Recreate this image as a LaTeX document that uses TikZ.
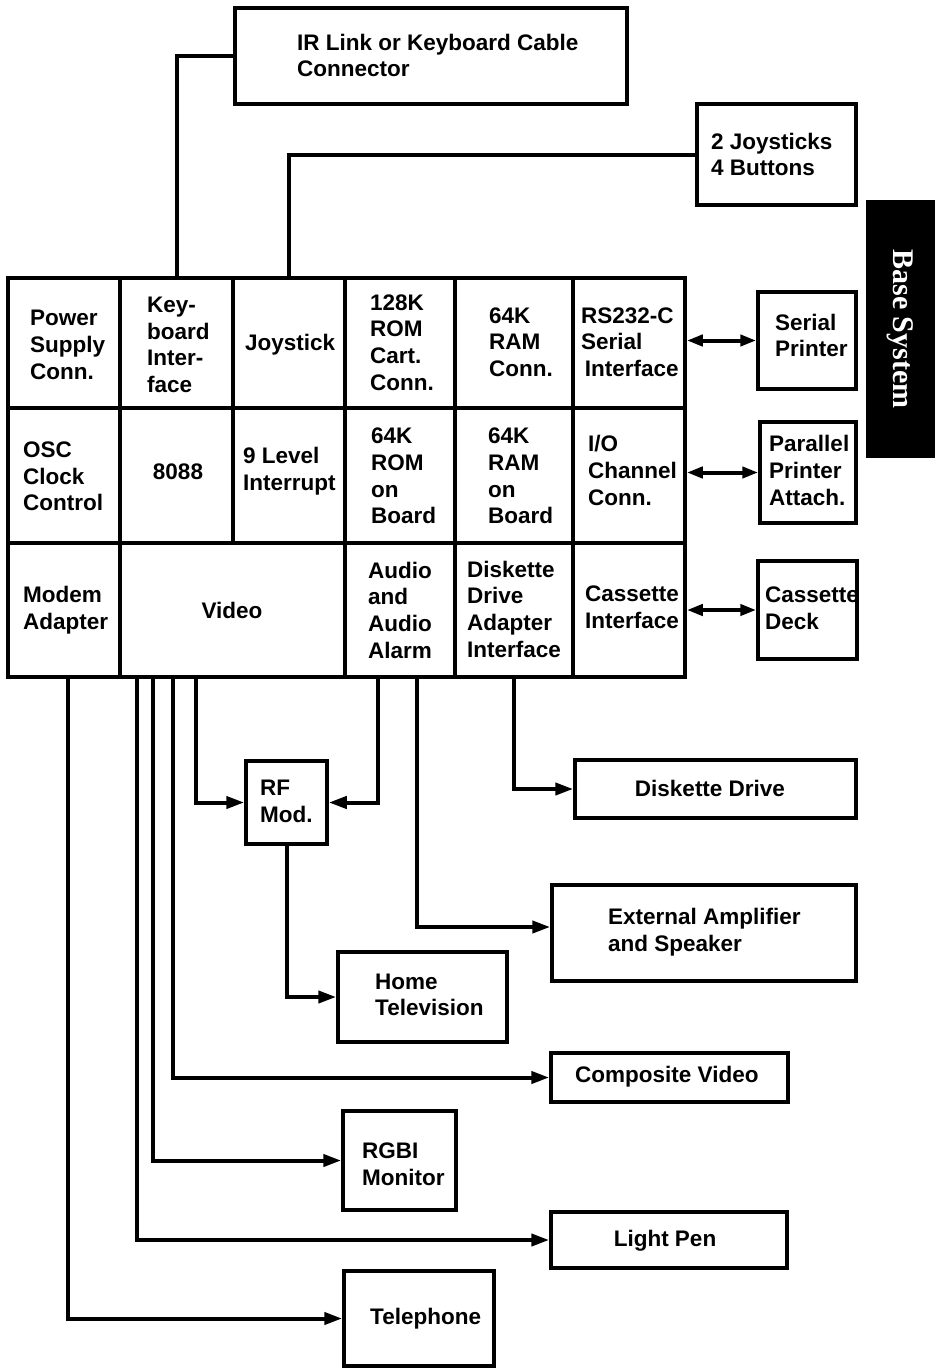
\documentclass[tikz,border=0pt]{standalone}
\usepackage{fontspec}
\setmainfont{Liberation Sans}
\newfontfamily\basefont{Liberation Serif}
\usetikzlibrary{arrows.meta}
\tikzset{
  box/.style={draw, line width=3.5pt, inner sep=0pt, rectangle},
  conn/.style={line width=4pt},
  arr/.style={conn, -{Triangle[length=18pt,width=12pt]}},
  darr/.style={conn, {Triangle[length=16pt,width=11pt]}-{Triangle[length=16pt,width=11pt]}},
  txt/.style={inner sep=0pt, align=left, anchor=west, font=\fontsize{22.5}{26.7}\selectfont\bfseries},
  ctxt/.style={inner sep=0pt, align=center, font=\fontsize{22.5}{26.7}\selectfont\bfseries}
}
\newcommand\mybox[5]{\node[box, minimum width={(#4-#2)*1pt}, minimum height={(#5-#3)*1pt}] (#1) at ({(#2+#4)/2},{(#3+#5)/2}) {};}
\begin{document}
\begin{tikzpicture}[x=1pt,y=-1pt]
\useasboundingbox (0,0) rectangle (943,1368);
% main grid
\mybox{psu}{8}{278}{120}{408}
\mybox{kbd}{120}{278}{233}{408}
\mybox{joy}{233}{278}{345}{408}
\mybox{romc}{345}{278}{455}{408}
\mybox{ramc}{455}{278}{573}{408}
\mybox{rs}{573}{278}{685}{408}
\mybox{osc}{8}{408}{120}{543}
\mybox{cpu}{120}{408}{233}{543}
\mybox{irq}{233}{408}{345}{543}
\mybox{romb}{345}{408}{455}{543}
\mybox{ramb}{455}{408}{573}{543}
\mybox{io}{573}{408}{685}{543}
\mybox{modem}{8}{543}{120}{677}
\mybox{video}{120}{543}{345}{677}
\mybox{audio}{345}{543}{455}{677}
\mybox{dda}{455}{543}{573}{677}
\mybox{cas}{573}{543}{685}{677}
% external boxes
\mybox{ir}{235}{8}{627}{104}
\mybox{js}{697}{104}{856}{205}
\mybox{sp}{758}{292}{856}{389}
\mybox{pp}{760}{422}{856}{523}
\mybox{cd}{758}{561}{857}{659}
\mybox{rf}{246}{761}{327}{844}
\mybox{dd}{575}{760}{856}{818}
\mybox{amp}{552}{885}{856}{981}
\mybox{tv}{338}{952}{507}{1042}
\mybox{cv}{551}{1053}{788}{1102}
\mybox{rgbi}{343}{1111}{456}{1210}
\mybox{lp}{551}{1212}{787}{1268}
\mybox{tel}{344}{1271}{494}{1366}
% base system tab
\node[fill=black, minimum width=69pt, minimum height=258pt, inner sep=0pt] (bs) at (900.5,329) {};
\node[rotate=-90, text=white, inner sep=0pt, font=\basefont\bfseries\fontsize{30}{30}\selectfont] (bst) at (bs.center) {Base System};
% texts
\node[txt] (t-ir) at (297,55.5) {IR Link or Keyboard Cable\\Connector};
\node[txt] (t-js) at (711,154.5) {2 Joysticks\\4 Buttons};
\node[txt] (t-psu) at (30,345) {Power\\Supply\\Conn.};
\node[txt] (t-kbd) at (147,345) {Key-\\board\\Inter-\\face};
\node[txt] (t-joy) at (245,345) {Joystick};
\node[txt] (t-romc) at (370,342.5) {128K\\ROM\\Cart.\\Conn.};
\node[txt] (t-ramc) at (489,342) {64K\\RAM\\Conn.};
\node[txt] (t-rs) at (581,342) {RS232-C\\Serial\\\,Interface};
\node[txt] (t-sp) at (775,335.5) {Serial\\Printer};
\node[txt] (t-osc) at (23,476.5) {OSC\\Clock\\Control};
\node[ctxt] (t-cpu) at (178,472) {8088};
\node[txt] (t-irq) at (243,471.5) {9 Level\\Interrupt};
\node[txt] (t-romb) at (371,476) {64K\\ROM\\on\\Board};
\node[txt] (t-ramb) at (488,476) {64K\\RAM\\on\\Board};
\node[txt] (t-io) at (588,470.5) {I/O\\Channel\\Conn.};
\node[txt] (t-pp) at (769,470.5) {Parallel\\Printer\\Attach.};
\node[txt] (t-modem) at (23,610) {Modem\\Adapter};
\node[ctxt] (t-video) at (232,610) {Video};
\node[txt] (t-audio) at (368,610) {Audio\\and\\Audio\\Alarm};
\node[txt] (t-dda) at (467,609) {Diskette\\Drive\\Adapter\\Interface};
\node[txt] (t-cas) at (585,607.5) {Cassette\\Interface};
\node[txt] (t-cd) at (765,608.5) {Cassette\\Deck};
\node[txt] (t-rf) at (260,801.5) {RF\\Mod.};
\node[ctxt] (t-dd) at (710,788) {Diskette Drive};
\node[txt] (t-amp) at (608,932.5) {External Amplifier\\and Speaker};
\node[txt] (t-tv) at (375,995) {Home\\Television};
\node[txt] (t-cv) at (575,1077) {Composite Video};
\node[txt] (t-rgbi) at (362,1164) {RGBI\\Monitor};
\node[ctxt] (t-lp) at (665,1241) {Light Pen};
\node[txt] (t-tel) at (370,1319) {Telephone};
% connectors
\draw[conn] (kbd.north) |- (ir.west);
\draw[conn] (joy.north) |- (js.west);
\draw[darr] (sp.west -| rs.east) -- (sp.west);
\draw[darr] (pp.west -| io.east) -- (pp.west);
\draw[darr] (cd.west -| cas.east) -- (cd.west);
\draw[arr] (dda.south) |- (dd.west);
\draw[arr] ([xshift=74pt]audio.south west) |- ([yshift=6pt]amp.west);
\draw[arr] ([xshift=35pt]audio.south west) |- (rf.east);
\draw[arr] ([xshift=78pt]video.south west) |- (rf.west);
\draw[arr] ([xshift=55pt]video.south west) |- (cv.west);
\draw[arr] ([xshift=35pt]video.south west) |- (rgbi.west);
\draw[arr] ([xshift=19pt]video.south west) |- (lp.west);
\draw[arr] (rf.south) |- (tv.west);
\draw[arr] ([xshift=4pt]modem.south) |- (tel.west);
\end{tikzpicture}
\end{document}
